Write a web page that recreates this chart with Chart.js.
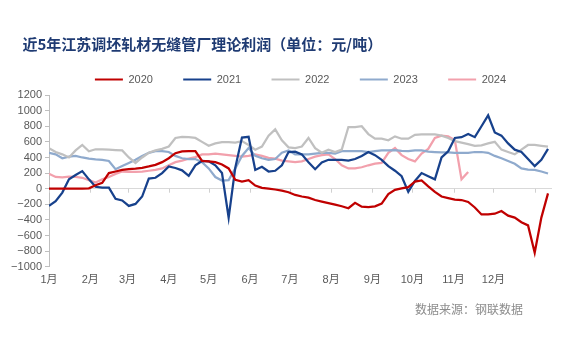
<!DOCTYPE html>
<html>
<head>
<meta charset="utf-8">
<script src="https://cdn.jsdelivr.net/npm/chart.js@4.4.1/dist/chart.umd.min.js"></script>
<style>
  html, body { margin: 0; padding: 0; background: #fff; }
</style>
</head>
<body>
<canvas id="profitChart" width="571" height="351"></canvas>
<script>
// 近5年江苏调坯轧材无缝管厂理论利润 - daily curve sampled every 5 days
const titleText = '近5年江苏调坯轧材无缝管厂理论利润（单位：元/吨）';
const sourceText = '数据来源：钢联数据';

const monthLabels = ['1月', '2月', '3月', '4月', '5月', '6月', '7月', '8月', '9月', '10月', '11月', '12月'];
const monthStarts = [0, 31, 59, 90, 120, 151, 181, 212, 243, 273, 304, 334];

// day of year for every sample
const days = [0, 5, 10, 15, 20, 25, 30, 35, 40, 45, 50, 55, 60, 65, 70, 75, 80, 85, 90, 95,
  100, 105, 110, 115, 120, 125, 130, 135, 140, 145, 150, 155, 160, 165, 170, 175, 180, 185, 190, 195,
  200, 205, 210, 215, 220, 225, 230, 235, 240, 245, 250, 255, 260, 265, 270, 275, 280, 285, 290, 295,
  300, 305, 310, 315, 320, 325, 330, 335, 340, 345, 350, 355, 360, 365, 370, 375];

const v2020 = [0, 0, 0, 0, 0, 0, 5, 45, 75, 200, 220, 240, 250, 258, 268, 285, 305, 340, 390, 455,
  478, 482, 482, 355, 350, 340, 310, 260, 115, 90, 110, 40, 10, 0, -10, -25, -45, -80, -100, -115,
  -145, -165, -185, -205, -225, -250, -180, -230, -235, -225, -190, -70, -15, 5, 20, 90, 105, 30, -40, -100,
  -120, -140, -145, -170, -240, -330, -330, -320, -285, -345, -370, -430, -470, -820, -370, -60];

const v2021 = [-220, -160, -50, 120, 175, 225, 120, 25, 15, 13, -130, -150, -220, -195, -100, 130, 140, 200, 285, 265,
  235, 165, 300, 355, 350, 300, 200, -370, 270, 655, 665, 240, 280, 220, 230, 300, 470, 475, 440, 340,
  250, 335, 370, 370, 370, 360, 380, 420, 470, 430, 370, 290, 230, 160, -40, 100, 200, 160, 120, 400,
  480, 650, 660, 700, 660, 800, 940, 720, 680, 580, 500, 470, 380, 290, 370, 510];

const v2022 = [520, 470, 440, 400, 490, 560, 480, 505, 505, 500, 495, 490, 400, 330, 400, 460, 490, 510, 540, 650,
  665, 660, 650, 600, 550, 580, 595, 595, 590, 610, 560, 500, 540, 680, 760, 620, 530, 520, 540, 650,
  520, 460, 500, 470, 500, 790, 790, 800, 700, 640, 640, 620, 670, 640, 640, 690, 695, 695, 695, 680,
  650, 610, 590, 570, 550, 555, 580, 600, 500, 470, 440, 500, 560, 560, 550, 540];

const v2023 = [460, 440, 390, 410, 420, 400, 385, 375, 370, 355, 250, 290, 330, 370, 420, 460, 480, 480, 470, 420,
  390, 380, 380, 340, 260, 150, 105, 110, 260, 420, 520, 420, 390, 370, 380, 460, 490, 440, 440, 440,
  450, 460, 460, 450, 480, 480, 480, 480, 470, 480, 490, 490, 495, 485, 480, 490, 490, 475, 470, 465,
  465, 460, 460, 460, 470, 470, 460, 420, 390, 355, 320, 260, 245, 240, 220, 195];

const v2024 = [190, 150, 145, 155, 150, 140, 110, 80, 120, 150, 190, 220, 215, 215, 220, 230, 240, 260, 300, 340,
  360, 385, 405, 440, 440, 450, 440, 430, 420, 410, 420, 440, 420, 395, 385, 360, 350, 340, 350, 380,
  410, 430, 440, 380, 300, 260, 260, 275, 300, 320, 330, 460, 520, 430, 380, 350, 450, 510, 650, 680,
  670, 620, 120, 215, null, null, null, null, null, null, null, null, null, null, null, null];

const series = [
  { label: '2020', values: v2020, color: '#c00000' },
  { label: '2021', values: v2021, color: '#17418c' },
  { label: '2022', values: v2022, color: '#c0c0c0' },
  { label: '2023', values: v2023, color: '#8faacd' },
  { label: '2024', values: v2024, color: '#f2a0ac' }
];

Chart.defaults.font.family = "'Liberation Sans', 'Noto Sans CJK SC', sans-serif";

// source line under the plot, bottom right
const sourceNote = {
  id: 'sourceNote',
  afterDraw(chart) {
    const c = chart.ctx;
    c.save();
    c.font = "12px 'Noto Sans CJK SC', sans-serif";
    c.fillStyle = '#8c8c8c';
    c.textAlign = 'right';
    c.textBaseline = 'middle';
    c.fillText(sourceText, 523, 309);
    c.restore();
  }
};

// small month ticks on the zero line
const zeroTicks = {
  id: 'zeroTicks',
  beforeDatasetsDraw(chart) {
    const c = chart.ctx;
    const xs = chart.scales.x;
    const y0 = chart.scales.y.getPixelForValue(0);
    c.save();
    c.strokeStyle = '#d0d0d0';
    c.lineWidth = 1;
    monthStarts.concat([365]).forEach(d => {
      const px = Math.round(xs.getPixelForValue(d)) + 0.5;
      c.beginPath();
      c.moveTo(px, y0);
      c.lineTo(px, y0 + 4);
      c.stroke();
    });
    c.restore();
  }
};

const ctx = document.getElementById('profitChart').getContext('2d');
const profitChart = new Chart(ctx, {
  type: 'line',
  data: {
    datasets: series.map(s => ({
      label: s.label,
      data: days.map((d, i) => ({ x: d, y: s.values[i] })),
      borderColor: s.color,
      backgroundColor: s.color,
      borderWidth: 2.25,
      pointRadius: 0,
      tension: 0,
      spanGaps: false
    }))
  },
  options: {
    responsive: false,
    animation: false,
    devicePixelRatio: 1,
    layout: { padding: { left: 0, right: 19, top: 0, bottom: 57 } },
    plugins: {
      tooltip: { enabled: false },
      title: {
        display: true,
        // leading spaces push the title in line with the tick labels
        text: '\u3000\u2002' + titleText,
        align: 'start',
        color: '#1f3b73',
        font: { size: 15, weight: 'bold', family: "'Noto Sans CJK SC', sans-serif" },
        padding: { top: 35, bottom: 9 }
      },
      legend: {
        position: 'top',
        fullSize: false,
        labels: {
          boxWidth: 28,
          boxHeight: 2,
          padding: 12,
          color: '#595959',
          font: { size: 11 },
          generateLabels(chart) {
            const items = Chart.defaults.plugins.legend.labels.generateLabels(chart);
            items.forEach((it, i) => {
              it.lineWidth = 0;
              if (i < items.length - 1) it.text += '      ';
            });
            return items;
          }
        }
      }
    },
    scales: {
      x: {
        type: 'linear',
        min: 0,
        max: 378,
        afterBuildTicks(s) { s.ticks = monthStarts.map(v => ({ value: v })); },
        ticks: {
          autoSkip: false,
          maxRotation: 0,
          padding: 7,
          color: '#595959',
          font: { size: 11 },
          callback: (v, i) => monthLabels[i]
        },
        grid: { display: false, drawTicks: false },
        border: { display: false }
      },
      y: {
        min: -1000,
        max: 1200,
        afterFit(s) { s.width = 49; },
        ticks: {
          stepSize: 200,
          autoSkip: false,
          padding: 3,
          color: '#595959',
          font: { size: 11 },
          callback: v => v < 0 ? '−' + Math.abs(v) : String(v)
        },
        grid: {
          color: c => (c.tick && c.tick.value === 0) ? '#d9d9d9' : 'rgba(0,0,0,0)',
          tickColor: '#bfbfbf',
          tickLength: 4
        },
        border: { display: true, color: '#bfbfbf' }
      }
    }
  },
  plugins: [zeroTicks, sourceNote]
});
</script>
</body>
</html>
